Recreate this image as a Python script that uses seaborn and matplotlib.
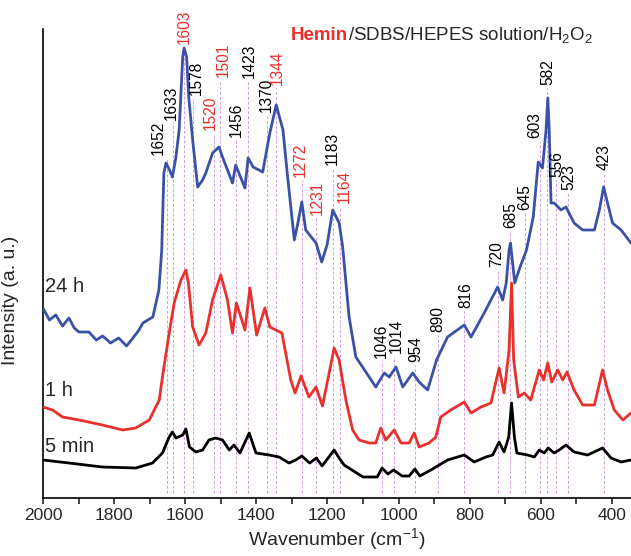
import matplotlib
matplotlib.use("Agg")
import matplotlib.pyplot as plt
import seaborn as sns

# Spectra (wavenumber in cm-1, intensity in a. u.)
WN_24H = [2000, 1982, 1964, 1945, 1927, 1912, 1899, 1871, 1850, 1832, 1810, 1787, 1765, 1747,
          1730, 1719, 1691, 1674, 1666, 1660, 1654,
          1644, 1636, 1626, 1617, 1607, 1603, 1596, 1590, 1579, 1565, 1551, 1542, 1523, 1505,
          1495, 1481, 1467, 1458, 1432, 1423, 1409, 1382, 1362, 1344, 1325, 1311, 1293, 1283,
          1272, 1261, 1232, 1216, 1201, 1185, 1167, 1157, 1146, 1139, 1120, 1101, 1064, 1040,
          1026, 1007, 988, 960, 942, 918, 893, 862, 815, 796, 759, 721, 707, 697, 689, 685,
          673, 658, 640, 621, 607, 595, 585, 580, 576, 571, 562, 543, 529, 506, 482, 449, 435,
          423, 412, 398, 374, 346]
INT_24H = [190, 178, 183, 172, 180, 170, 166, 166, 158, 162, 155, 160, 152, 160,
           168, 175, 181, 208, 248, 325, 335,
           328, 321, 341, 368, 441, 450, 441, 401, 358, 311, 318, 325, 345, 351,
           341, 328, 315, 333, 310, 340, 331, 326, 365, 393, 368, 318, 258, 275,
           296, 268, 255, 236, 253, 288, 275, 251, 208, 181, 141, 131, 111, 125,
           121, 131, 111, 125, 116, 108, 138, 161, 173, 161, 185, 211, 198, 215, 248, 255,
           215, 231, 248, 281, 336, 330, 368, 400, 368, 295, 295, 288, 291, 275, 268, 268, 288,
           311, 295, 275, 268, 255]

WN_1H = [2000, 1973, 1945, 1898, 1833, 1776, 1739, 1701, 1673, 1664, 1645, 1631, 1612, 1598,
         1591, 1579, 1561, 1542, 1523, 1500, 1481, 1467, 1456, 1432, 1418, 1399, 1376, 1362,
         1328, 1303, 1291, 1274, 1252, 1232, 1214, 1199, 1181, 1167, 1148, 1129, 1111, 1082,
         1064, 1050, 1036, 1012, 993, 970, 956, 942, 914, 895, 881, 853, 815, 796, 768, 740,
         717, 703, 689, 682, 676, 663, 646, 628, 604, 592, 580, 569, 552, 538, 526, 506, 482,
         449, 426, 412, 393, 369, 346]
INT_1H = [91, 88, 81, 78, 73, 68, 70, 78, 98, 121, 165, 195, 218, 228,
          215, 171, 153, 165, 198, 223, 198, 165, 195, 168, 210, 163, 190, 171,
          165, 118, 105, 122, 101, 111, 92, 118, 150, 138, 98, 68, 58, 55,
          55, 70, 58, 68, 55, 55, 65, 51, 55, 61, 81, 88, 96, 85, 91, 95,
          130, 105, 148, 215, 138, 101, 105, 98, 128, 118, 135, 116, 128, 118, 126, 108, 93,
          93, 128, 108, 88, 78, 85]

WN_5MIN = [2000, 1927, 1833, 1739, 1692, 1664, 1645, 1636, 1626, 1607, 1598, 1588, 1570, 1551,
           1533, 1514, 1495, 1476, 1463, 1446, 1420, 1401, 1364, 1336, 1308, 1289, 1272, 1250,
           1231, 1215, 1181, 1167, 1153, 1100, 1060, 1046, 1030, 1014, 990, 970, 954, 940, 909,
           862, 815, 787, 754, 735, 717, 703, 690, 682, 674, 667, 637, 618, 604, 590, 579, 562,
           548, 529, 506, 468, 426, 402, 374, 346]
INT_5MIN = [38, 35, 31, 30, 35, 45, 61, 66, 60, 63, 69, 51, 46, 48,
            58, 60, 58, 48, 53, 45, 65, 45, 43, 41, 35, 38, 42, 35,
            40, 32, 48, 40, 33, 21, 21, 30, 24, 28, 22, 22, 29, 22, 28,
            38, 43, 36, 41, 43, 56, 46, 61, 95, 61, 45, 43, 41, 48, 45, 50, 45,
            48, 53, 46, 43, 50, 40, 36, 38]

SERIES = ["24 h", "1 h", "5 min"]

# Peak assignments; red ones belong to hemin
PEAKS = [1652, 1633, 1603, 1578, 1520, 1501, 1456, 1423, 1370, 1344, 1272, 1231, 1183, 1164,
         1046, 1014, 954, 890, 816, 720, 685, 645, 603, 582, 556, 523, 423]
HEMIN_PEAKS = [1603, 1520, 1501, 1344, 1272, 1231, 1164]

# where each peak label sits (centre wavenumber, bottom of text)
LABEL_X = [1675, 1640, 1603, 1568, 1528, 1494, 1455, 1420, 1373, 1340, 1275, 1228, 1187, 1153,
           1049, 1007, 951, 890, 810, 724, 685, 644, 616, 580, 555, 520, 421]
LABEL_Y = [343, 378, 454, 403, 368, 421, 361, 420, 386, 413, 321, 283, 333, 295,
           140, 145, 136, 166, 190, 231, 270, 288, 360, 413, 321, 308, 328]

BLUE = "#3a52a6"
RED = "#e8302c"
GUIDE = "#d39be0"

sns.set_style("ticks")
plt.rcParams["font.family"] = ["Liberation Sans", "DejaVu Sans"]
plt.rcParams["mathtext.fontset"] = "custom"
plt.rcParams["mathtext.rm"] = "Liberation Sans"
plt.rcParams["mathtext.it"] = "Liberation Sans:italic"
plt.rcParams["mathtext.bf"] = "Liberation Sans:bold"

fig = plt.figure(figsize=(6.31, 5.56), dpi=100)
ax = fig.add_axes([43 / 631, 58 / 556, 588 / 631, 469 / 556])

# guide lines under the spectra
for wn, top in zip(PEAKS, LABEL_Y):
    ax.vlines(wn, 5, top - 3, color=GUIDE, lw=0.7, linestyles=(0, (3, 2)), zorder=1)

sns.lineplot(x=WN_24H, y=INT_24H, color=BLUE, lw=2.0, estimator=None, ax=ax, zorder=3)
sns.lineplot(x=WN_1H, y=INT_1H, color=RED, lw=2.0, estimator=None, ax=ax, zorder=3)
sns.lineplot(x=WN_5MIN, y=INT_5MIN, color="black", lw=2.0, estimator=None, ax=ax, zorder=3)

for wn, lx, ly in zip(PEAKS, LABEL_X, LABEL_Y):
    c = RED if wn in HEMIN_PEAKS else "black"
    ax.text(lx, ly, str(wn), rotation=90, ha="center", va="bottom", color=c,
            fontsize=11.2, clip_on=False, zorder=4)

for name, y in zip(SERIES, [211, 108, 51]):
    ax.text(1993, y, name, fontsize=14.5, ha="left", va="center", zorder=4)

ax.set_xlim(2000, 346)
ax.set_ylim(0, 469)
ax.set_xticks([2000, 1800, 1600, 1400, 1200, 1000, 800, 600, 400])
ax.set_xticks(range(1900, 346, -200), minor=True)
ax.set_yticks([])
ax.tick_params(axis="x", which="both", direction="out", length=4, width=1.2, labelsize=12.5)
ax.set_xlabel("Wavenumber (cm$^{-1}$)", fontsize=14, labelpad=2)
ax.set_ylabel("Intensity (a. u.)", fontsize=14, labelpad=4)
ax.yaxis.set_label_coords(-0.04, 198 / 469)
sns.despine(ax=ax, top=True, right=True)
for s in ["left", "bottom"]:
    ax.spines[s].set_linewidth(1.2)
    ax.spines[s].set_color("black")

# title with coloured "Hemin" (limits are fixed now, so the transform is final)
t1 = ax.text(1303, 458, "Hemin", color=RED, fontweight="bold", fontsize=13.5,
             va="baseline", clip_on=False)
fig.canvas.draw()
bb = t1.get_window_extent()
x_end = ax.transData.inverted().transform((bb.x1, bb.y0))[0]
ax.text(x_end, 458, "/SDBS/HEPES solution/H$_2$O$_2$", fontsize=13.5, va="baseline",
        clip_on=False)

fig.savefig("out.png", dpi=100)
